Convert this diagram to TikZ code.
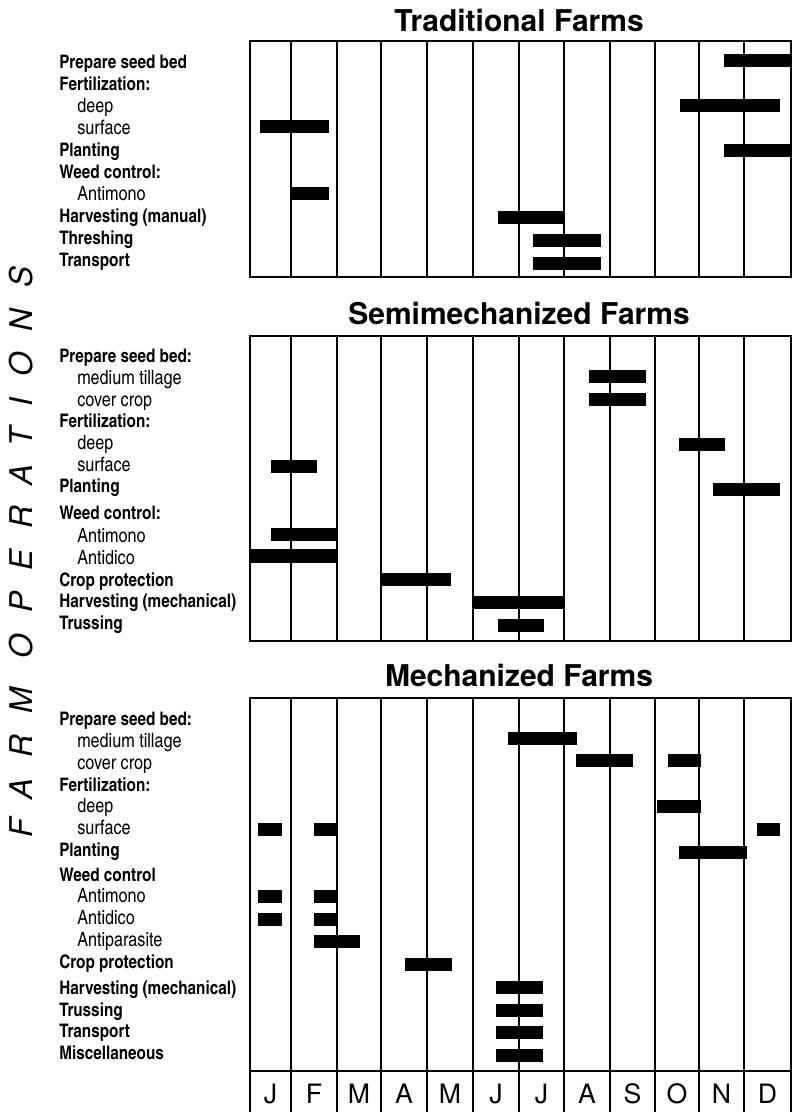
\documentclass[tikz,border=0pt]{standalone}
\usepackage{fontspec}
\setmainfont{TeX Gyre Heros}
\newfontfamily\condfont{texgyreheroscn}[Extension=.otf, UprightFont=*-regular, BoldFont=*-bold, ItalicFont=*-italic, BoldItalicFont=*-bolditalic]
\newcommand\gbar[3]{\fill (#1,{#3-6.5}) rectangle (#2,{#3+6.5});}
\begin{document}
\begin{tikzpicture}[x=0.75pt, y=-0.75pt,
    hdr/.style={font=\fontsize{22.5}{24}\selectfont\bfseries, anchor=base, inner sep=0pt},
    op/.style={font=\condfont\fontsize{14}{15}\selectfont\bfseries, anchor=base west, inner sep=0pt},
    sub/.style={font=\condfont\fontsize{14.8}{15}\selectfont, anchor=base west, inner sep=0pt},
    month/.style={font=\fontsize{20}{22}\selectfont, anchor=base, inner sep=0pt},
    side/.style={font=\fontsize{23.5}{24}\selectfont\itshape\addfontfeature{LetterSpace=67}, anchor=base, inner sep=0pt},
    panelbox/.style={line width=1.5pt},
    monthline/.style={line width=1.1pt}]
  \useasboundingbox (0,0) rectangle (792,1112);
  \def\xa{59}
  \def\xb{77}
  \node[side, rotate=90] (side) at (32, 552) {FARM OPERATIONS};

  \node[hdr] (H0) at (519, 32) {Traditional Farms};
  \node[hdr] (H1) at (519, 325) {Semimechanized Farms};
  \node[hdr] (H2) at (519, 686.7) {Mechanized Farms};

  \draw[panelbox] (250, 40.7) rectangle (791, 277);
  \draw[panelbox] (250, 336) rectangle (791, 641);
  \draw[panelbox] (250, 1112) -- (250, 698.3) -- (791, 698.3) -- (791, 1112);
  \draw[panelbox] (250, 1071) -- (791, 1071);
  \foreach \m in {291, 337, 381, 427, 473, 519, 564, 610, 655, 699, 744} {
    \draw[monthline] (\m, 40.7) -- (\m, 277);
    \draw[monthline] (\m, 336) -- (\m, 641);
    \draw[monthline] (\m, 698.3) -- (\m, 1112);
  }

  \node[op]  (L0_0) at (\xa, 69)    {Prepare seed bed};
  \node[op]  (L0_1) at (\xa, 90.9)  {Fertilization:};
  \node[sub] (L0_2) at (\xb, 112.8) {deep};
  \node[sub] (L0_3) at (\xb, 134.7) {surface};
  \node[op]  (L0_4) at (\xa, 156.6) {Planting};
  \node[op]  (L0_5) at (\xa, 178.5) {Weed control:};
  \node[sub] (L0_6) at (\xb, 200.4) {Antimono};
  \node[op]  (L0_7) at (\xa, 222.3) {Harvesting (manual)};
  \node[op]  (L0_8) at (\xa, 244.2) {Threshing};
  \node[op]  (L0_9) at (\xa, 266.1) {Transport};

  \gbar{724}{791}{61}
  \gbar{680}{780}{105.5}
  \gbar{260}{329}{126.5}
  \gbar{724}{791}{150.5}
  \gbar{291}{329}{194}
  \gbar{498}{564}{218}
  \gbar{533}{601}{241}
  \gbar{533}{601}{263.5}

  \node[op]  (L1_0)  at (\xa, 362)   {Prepare seed bed:};
  \node[sub] (L1_1)  at (\xb, 384)   {medium tillage};
  \node[sub] (L1_2)  at (\xb, 406)   {cover crop};
  \node[op]  (L1_3)  at (\xa, 427.7) {Fertilization:};
  \node[sub] (L1_4)  at (\xb, 449)   {deep};
  \node[sub] (L1_5)  at (\xb, 471)   {surface};
  \node[op]  (L1_6)  at (\xa, 492.7) {Planting};
  \node[op]  (L1_7)  at (\xa, 519)   {Weed control:};
  \node[sub] (L1_8)  at (\xb, 542.7) {Antimono};
  \node[sub] (L1_9)  at (\xb, 564)   {Antidico};
  \node[op]  (L1_10) at (\xa, 586)   {Crop protection};
  \node[op]  (L1_11) at (\xa, 607.7) {Harvesting (mechanical)};
  \node[op]  (L1_12) at (\xa, 629)   {Trussing};

  \gbar{589}{646}{376.7}
  \gbar{589}{646}{399}
  \gbar{679}{725}{444.6}
  \gbar{270.5}{317}{466.7}
  \gbar{712.6}{779.7}{489}
  \gbar{270.5}{337}{534.7}
  \fill (250, 549.3) rectangle (337, 563.3);
  \gbar{382.4}{451}{579.3}
  \gbar{474}{564}{602.3}
  \gbar{498}{544}{625}

  \node[op]  (L2_0)  at (\xa, 725.3)  {Prepare seed bed:};
  \node[sub] (L2_1)  at (\xb, 747.7)  {medium tillage};
  \node[sub] (L2_2)  at (\xb, 769.3)  {cover crop};
  \node[op]  (L2_3)  at (\xa, 791)    {Fertilization:};
  \node[sub] (L2_4)  at (\xb, 812.7)  {deep};
  \node[sub] (L2_5)  at (\xb, 834.3)  {surface};
  \node[op]  (L2_6)  at (\xa, 856.7)  {Planting};
  \node[op]  (L2_7)  at (\xa, 881)    {Weed control};
  \node[sub] (L2_8)  at (\xb, 902.7)  {Antimono};
  \node[sub] (L2_9)  at (\xb, 924.3)  {Antidico};
  \node[sub] (L2_10) at (\xb, 946.7)  {Antiparasite};
  \node[op]  (L2_11) at (\xa, 968.7)  {Crop protection};
  \node[op]  (L2_12) at (\xa, 994.3)  {Harvesting (mechanical)};
  \node[op]  (L2_13) at (\xa, 1016)   {Trussing};
  \node[op]  (L2_14) at (\xa, 1037.7) {Transport};
  \node[op]  (L2_15) at (\xa, 1059.3) {Miscellaneous};

  \gbar{508}{577}{738.3}
  \gbar{576}{633}{760.7}
  \gbar{668}{701}{760.7}
  \gbar{657}{701}{806.7}
  \gbar{258}{282}{829}
  \gbar{314}{337}{829}
  \gbar{757}{780}{829}
  \gbar{679}{747}{852.3}
  \gbar{258}{282}{896.7}
  \gbar{314}{337}{896.7}
  \gbar{258}{282}{919.7}
  \gbar{314}{337}{919.7}
  \gbar{314}{360}{941.7}
  \gbar{405}{452}{964.7}
  \gbar{496}{542.5}{987.3}
  \gbar{496}{542.5}{1010.3}
  \gbar{496}{542.5}{1032.7}
  \gbar{496}{542.5}{1055.3}

  \node[month] (M0)  at (270.5, 1103) {J};
  \node[month] (M1)  at (314, 1103)   {F};
  \node[month] (M2)  at (359, 1103)   {M};
  \node[month] (M3)  at (404, 1103)   {A};
  \node[month] (M4)  at (450, 1103)   {M};
  \node[month] (M5)  at (496, 1103)   {J};
  \node[month] (M6)  at (541.5, 1103) {J};
  \node[month] (M7)  at (587, 1103)   {A};
  \node[month] (M8)  at (632.5, 1103) {S};
  \node[month] (M9)  at (677, 1103)   {O};
  \node[month] (M10) at (721.5, 1103) {N};
  \node[month] (M11) at (767.5, 1103) {D};
\end{tikzpicture}
\end{document}
